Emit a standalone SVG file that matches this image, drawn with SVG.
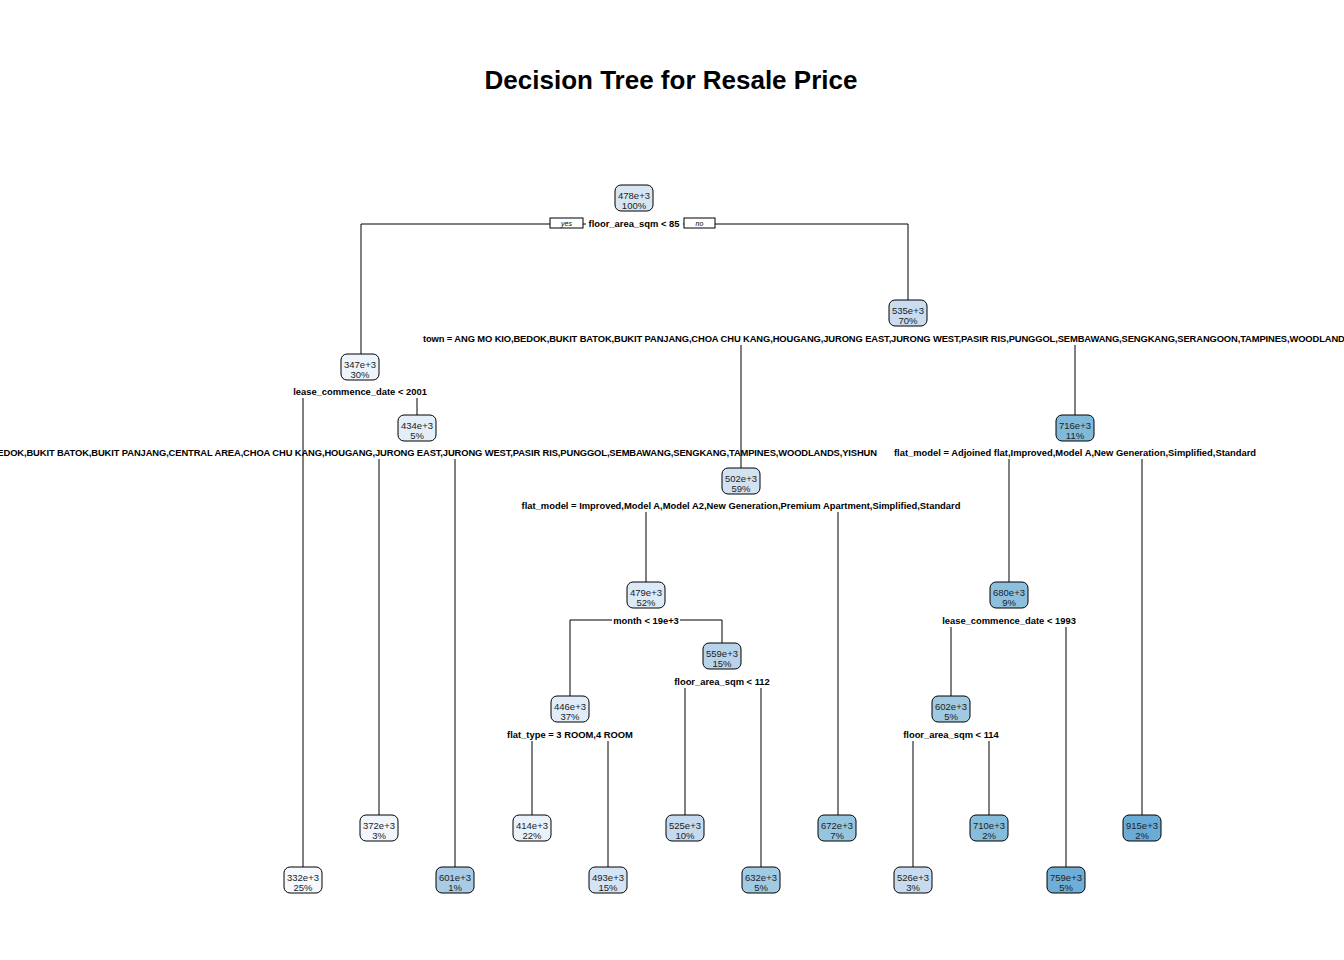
<svg xmlns="http://www.w3.org/2000/svg" width="1344" height="960" viewBox="0 0 1344 960">
<style>
.title{font-family:"Liberation Sans",Arial,sans-serif;font-weight:bold;font-size:26px;fill:#000}
.nd rect{stroke:#000;stroke-width:1}
.nd text{font-family:"Liberation Sans",Arial,sans-serif;font-size:9.5px;fill:#222;text-anchor:middle}
.sp{font-family:"Liberation Sans",Arial,sans-serif;font-weight:bold;font-size:9.4px;fill:#000;text-anchor:middle}
.yn{font-family:"Liberation Sans",Arial,sans-serif;font-style:italic;font-size:7px;fill:#000;text-anchor:middle}
#edges line{stroke:#000;stroke-width:1}
</style>
<rect width="1344" height="960" fill="#fff"/>
<text class="title" x="671" y="89" text-anchor="middle">Decision Tree for Resale Price</text>
<g id="edges">
<line x1="361" y1="224" x2="908" y2="224"/>
<line x1="361" y1="224" x2="361" y2="354"/>
<line x1="908" y1="224" x2="908" y2="300"/>
<line x1="741" y1="345" x2="741" y2="468"/>
<line x1="1075" y1="345" x2="1075" y2="415"/>
<line x1="303" y1="398" x2="303" y2="867"/>
<line x1="417" y1="398" x2="417" y2="415"/>
<line x1="379" y1="459" x2="379" y2="815"/>
<line x1="455" y1="459" x2="455" y2="867"/>
<line x1="646" y1="512" x2="646" y2="582"/>
<line x1="838" y1="512" x2="838" y2="815"/>
<line x1="570" y1="620" x2="722" y2="620"/>
<line x1="570" y1="620" x2="570" y2="696"/>
<line x1="722" y1="620" x2="722" y2="643"/>
<line x1="685" y1="688" x2="685" y2="815"/>
<line x1="761" y1="688" x2="761" y2="867"/>
<line x1="532" y1="741" x2="532" y2="815"/>
<line x1="608" y1="741" x2="608" y2="867"/>
<line x1="1009" y1="459" x2="1009" y2="582"/>
<line x1="1142" y1="459" x2="1142" y2="815"/>
<line x1="951" y1="627" x2="951" y2="696"/>
<line x1="1066" y1="627" x2="1066" y2="867"/>
<line x1="913" y1="741" x2="913" y2="867"/>
<line x1="989" y1="741" x2="989" y2="815"/>
</g>
<g id="labels">
<rect x="586" y="218" width="97" height="12" fill="#fff"/>
<rect x="550" y="218" width="33" height="10" fill="#fff" stroke="#000" stroke-width="1"/>
<text class="yn" x="566.5" y="226">yes</text>
<rect x="684" y="218" width="31" height="10" fill="#fff" stroke="#000" stroke-width="1"/>
<text class="yn" x="699.5" y="226">no</text>
<text class="sp" x="634" y="227">floor_area_sqm &lt; 85</text>
<text class="sp" x="423" y="342" style="text-anchor:start" textLength="928" lengthAdjust="spacing">town = ANG MO KIO,BEDOK,BUKIT BATOK,BUKIT PANJANG,CHOA CHU KANG,HOUGANG,JURONG EAST,JURONG WEST,PASIR RIS,PUNGGOL,SEMBAWANG,SENGKANG,SERANGOON,TAMPINES,WOODLANDS</text>
<text class="sp" x="360" y="395">lease_commence_date &lt; 2001</text>
<text class="sp" x="-41" y="456" style="text-anchor:start" textLength="918" lengthAdjust="spacing">town = BEDOK,BUKIT BATOK,BUKIT PANJANG,CENTRAL AREA,CHOA CHU KANG,HOUGANG,JURONG EAST,JURONG WEST,PASIR RIS,PUNGGOL,SEMBAWANG,SENGKANG,TAMPINES,WOODLANDS,YISHUN</text>
<text class="sp" x="741" y="509">flat_model = Improved,Model A,Model A2,New Generation,Premium Apartment,Simplified,Standard</text>
<text class="sp" x="1075" y="456">flat_model = Adjoined flat,Improved,Model A,New Generation,Simplified,Standard</text>
<rect x="612" y="614" width="68" height="12" fill="#fff"/>
<text class="sp" x="646" y="624">month &lt; 19e+3</text>
<text class="sp" x="722" y="685">floor_area_sqm &lt; 112</text>
<text class="sp" x="570" y="738">flat_type = 3 ROOM,4 ROOM</text>
<text class="sp" x="1009" y="624">lease_commence_date &lt; 1993</text>
<text class="sp" x="951" y="738">floor_area_sqm &lt; 114</text>
</g>
<g id="n1" class="nd"><rect x="615" y="185" width="38" height="26" rx="6" fill="#d8e6f4"/><text x="634" y="198.5">478e+3</text><text x="634" y="209">100%</text></g>
<g id="n2" class="nd"><rect x="341" y="354" width="38" height="26" rx="6" fill="#eef4fb"/><text x="360" y="367.5">347e+3</text><text x="360" y="378">30%</text></g>
<g id="n3" class="nd"><rect x="889" y="300" width="38" height="26" rx="6" fill="#c9dcf0"/><text x="908" y="313.5">535e+3</text><text x="908" y="324">70%</text></g>
<g id="n4" class="nd"><rect x="284" y="867" width="38" height="26" rx="6" fill="#f5f9fe"/><text x="303" y="880.5">332e+3</text><text x="303" y="891">25%</text></g>
<g id="n5" class="nd"><rect x="398" y="415" width="38" height="26" rx="6" fill="#e3eef8"/><text x="417" y="428.5">434e+3</text><text x="417" y="439">5%</text></g>
<g id="n6" class="nd"><rect x="360" y="815" width="38" height="26" rx="6" fill="#f1f6fc"/><text x="379" y="828.5">372e+3</text><text x="379" y="839">3%</text></g>
<g id="n7" class="nd"><rect x="436" y="867" width="38" height="26" rx="6" fill="#a8cce5"/><text x="455" y="880.5">601e+3</text><text x="455" y="891">1%</text></g>
<g id="n8" class="nd"><rect x="722" y="468" width="38" height="26" rx="6" fill="#d2e2f3"/><text x="741" y="481.5">502e+3</text><text x="741" y="492">59%</text></g>
<g id="n9" class="nd"><rect x="1056" y="415" width="38" height="26" rx="6" fill="#80b9da"/><text x="1075" y="428.5">716e+3</text><text x="1075" y="439">11%</text></g>
<g id="n10" class="nd"><rect x="627" y="582" width="38" height="26" rx="6" fill="#dce9f6"/><text x="646" y="595.5">479e+3</text><text x="646" y="606">52%</text></g>
<g id="n11" class="nd"><rect x="818" y="815" width="38" height="26" rx="6" fill="#96c5e0"/><text x="837" y="828.5">672e+3</text><text x="837" y="839">7%</text></g>
<g id="n12" class="nd"><rect x="551" y="696" width="38" height="26" rx="6" fill="#e0ecf8"/><text x="570" y="709.5">446e+3</text><text x="570" y="720">37%</text></g>
<g id="n13" class="nd"><rect x="703" y="643" width="38" height="26" rx="6" fill="#b8d4ea"/><text x="722" y="656.5">559e+3</text><text x="722" y="667">15%</text></g>
<g id="n14" class="nd"><rect x="513" y="815" width="38" height="26" rx="6" fill="#e9f2fa"/><text x="532" y="828.5">414e+3</text><text x="532" y="839">22%</text></g>
<g id="n15" class="nd"><rect x="589" y="867" width="38" height="26" rx="6" fill="#d4e4f4"/><text x="608" y="880.5">493e+3</text><text x="608" y="891">15%</text></g>
<g id="n16" class="nd"><rect x="666" y="815" width="38" height="26" rx="6" fill="#c4daef"/><text x="685" y="828.5">525e+3</text><text x="685" y="839">10%</text></g>
<g id="n17" class="nd"><rect x="742" y="867" width="38" height="26" rx="6" fill="#a1cbe2"/><text x="761" y="880.5">632e+3</text><text x="761" y="891">5%</text></g>
<g id="n18" class="nd"><rect x="990" y="582" width="38" height="26" rx="6" fill="#8cc0de"/><text x="1009" y="595.5">680e+3</text><text x="1009" y="606">9%</text></g>
<g id="n19" class="nd"><rect x="1123" y="815" width="38" height="26" rx="6" fill="#6aacd6"/><text x="1142" y="828.5">915e+3</text><text x="1142" y="839">2%</text></g>
<g id="n20" class="nd"><rect x="932" y="696" width="38" height="26" rx="6" fill="#9fcae2"/><text x="951" y="709.5">602e+3</text><text x="951" y="720">5%</text></g>
<g id="n21" class="nd"><rect x="1047" y="867" width="38" height="26" rx="6" fill="#6faed7"/><text x="1066" y="880.5">759e+3</text><text x="1066" y="891">5%</text></g>
<g id="n22" class="nd"><rect x="894" y="867" width="38" height="26" rx="6" fill="#c6dbef"/><text x="913" y="880.5">526e+3</text><text x="913" y="891">3%</text></g>
<g id="n23" class="nd"><rect x="970" y="815" width="38" height="26" rx="6" fill="#86bddc"/><text x="989" y="828.5">710e+3</text><text x="989" y="839">2%</text></g>
</svg>
